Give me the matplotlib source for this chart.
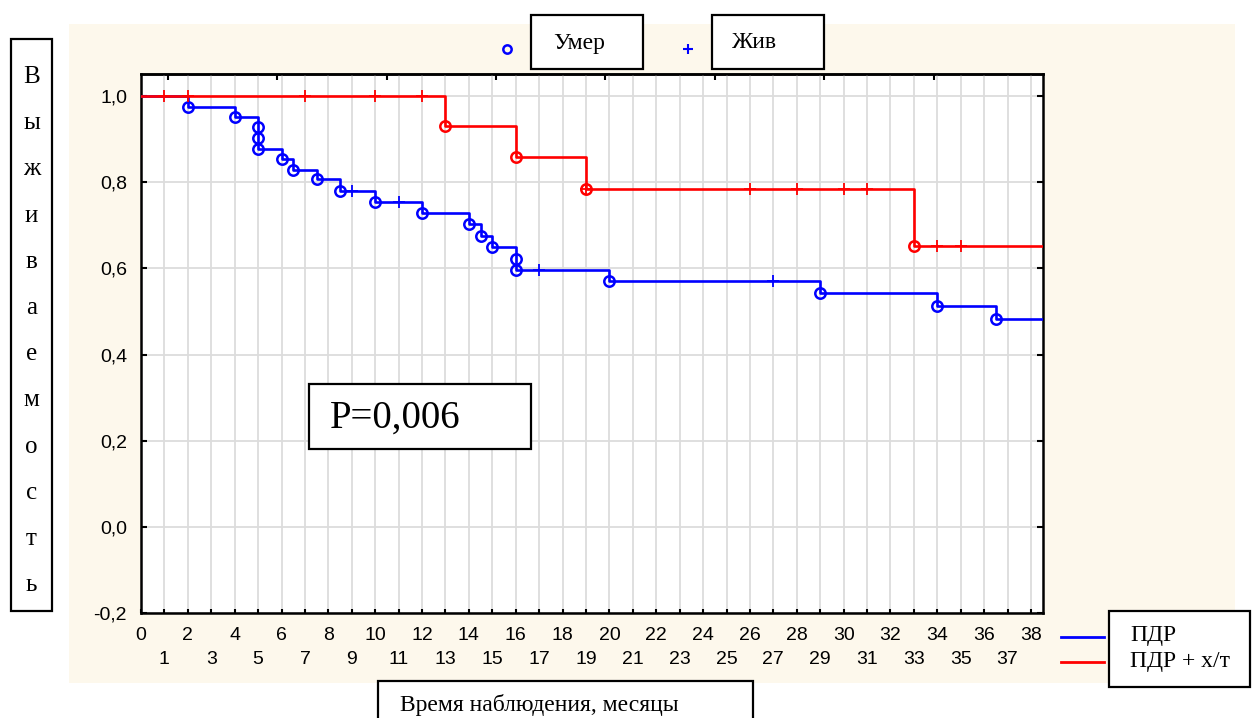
import numpy as np
import matplotlib
matplotlib.use("Agg")
import matplotlib.pyplot as plt
from matplotlib.patches import Rectangle

plt.rcParams["font.family"] = ["Liberation Sans", "DejaVu Sans"]

# Kaplan-Meier data: ПДР (blue)
pdr_death_t = [2, 4, 5, 5, 5, 6, 6.5, 7.5, 8.5, 10, 12, 14, 14.5, 15, 16, 16, 20, 29, 34, 36.5]
pdr_death_s = [0.975, 0.951, 0.927, 0.902, 0.876, 0.854, 0.828, 0.807, 0.780, 0.754,
               0.728, 0.702, 0.676, 0.650, 0.623, 0.597, 0.571, 0.544, 0.513, 0.483]
pdr_cens_t = [9, 11, 17, 27]

# ПДР + х/т (red)
chemo_death_t = [13, 16, 19, 33]
chemo_death_s = [0.930, 0.858, 0.784, 0.653]
chemo_cens_t = [1, 2, 7, 10, 12, 19, 26, 28, 30, 31, 34, 35]

x_major = list(range(0, 39, 2))
x_minor = list(range(1, 38, 2))
y_ticks = [-0.2, 0.0, 0.2, 0.4, 0.6, 0.8, 1.0]
y_labels = ["-0,2", "0,0", "0,2", "0,4", "0,6", "0,8", "1,0"]
x_max = 38.5

W, H = 1252, 718
fig = plt.figure(figsize=(W / 100, H / 100), dpi=100)


def fx(px):
    return px / W


def fy(py):
    return 1 - py / H


# cream panel behind the chart
fig.patches.append(Rectangle((fx(69), fy(683)), fx(1235) - fx(69), fy(24) - fy(683),
                             transform=fig.transFigure, facecolor="#fdf8ec",
                             edgecolor="none", zorder=-5))

ax = fig.add_axes([fx(141), fy(613.3), fx(1042.7) - fx(141), fy(74.3) - fy(613.3)])
ax.set_zorder(1)
ax.set_facecolor("white")
ax.set_xlim(0, x_max)
ax.set_ylim(-0.2, 1.0504)


def km_curve(t, s):
    xs = [0] + list(t) + [x_max]
    ys = [1.0] + list(s) + [s[-1]]
    return xs, ys


def km_at(t, s, times):
    idx = np.searchsorted(np.array(t), np.array(times), side="right")
    vals = np.concatenate([[1.0], s])
    return vals[idx]


for dt, ds, ct, col in [(pdr_death_t, pdr_death_s, pdr_cens_t, "#0000ff"),
                        (chemo_death_t, chemo_death_s, chemo_cens_t, "#ff0000")]:
    xs, ys = km_curve(dt, ds)
    ax.step(xs, ys, where="post", color=col, lw=1.9, zorder=3, clip_on=True)
    ax.plot(dt, ds, linestyle="none", marker="o", ms=7.5, mfc="none",
            mec=col, mew=1.8, zorder=4)
    ax.plot(ct, km_at(dt, ds, ct), linestyle="none", marker="+", ms=8,
            mec=col, mew=1.3, zorder=4)

# grid
ax.set_xticks(x_major)
ax.set_xticks(x_minor, minor=True)
ax.set_xticklabels([str(v) for v in x_major])
ax.set_xticklabels([str(v) for v in x_minor], minor=True)
ax.set_yticks(y_ticks)
ax.set_yticklabels(y_labels)
for v in x_major + x_minor:
    ax.axvline(v, color="#dcdcdc", lw=1.3, zorder=1)
for v in y_ticks:
    ax.axhline(v, color="#dcdcdc", lw=1.3, zorder=1)

ax.tick_params(axis="x", which="major", direction="in", length=3, width=1.5,
               labelsize=14, pad=10)
ax.tick_params(axis="x", which="minor", direction="in", length=3, width=1.5,
               labelsize=14, pad=27.5)
ax.tick_params(axis="y", direction="in", length=4, width=1.5, labelsize=14,
               pad=10, right=True)
for sp in ax.spines.values():
    sp.set_linewidth(1.8)
    sp.set_color("black")

top = ax.secondary_xaxis("top")
top.set_xticks(np.arange(1.15, x_max, 4.67))
top.tick_params(direction="in", length=4, width=1.5, labeltop=False)
top.spines["top"].set_linewidth(1.8)


def box(x0, y0, x1, y1):
    fig.patches.append(Rectangle((fx(x0), fy(y1)), fx(x1) - fx(x0), fy(y0) - fy(y1),
                                 transform=fig.transFigure, facecolor="white",
                                 edgecolor="black", lw=1.6, zorder=5))


serif = ["Liberation Serif", "DejaVu Serif"]

# top legend
fig.lines.append(plt.Line2D([fx(507)], [fy(49)], transform=fig.transFigure,
                            marker="o", ms=6, mfc="none", mec="#0000ff", mew=1.8))
fig.lines.append(plt.Line2D([fx(688)], [fy(49)], transform=fig.transFigure,
                            marker="+", ms=7, mec="#0000ff", mew=1.5))
box(531, 15, 643, 69)
fig.text(fx(553), fy(43), "Умер", family=serif, fontsize=17, va="center", zorder=6)
box(712, 15, 824, 69)
fig.text(fx(732), fy(43), "Жив", family=serif, fontsize=17, va="center", zorder=6)

# vertical y label
box(11, 39, 52, 611)
for i, ch in enumerate("Выживаемость"):
    fig.text(fx(31.5), fy(77 + i * 46.2), ch, family=serif, fontsize=18,
             ha="center", va="center", zorder=6)

# x label
box(378, 681, 753, 730)
fig.text(fx(400), fy(705), "Время наблюдения, месяцы", family=serif, fontsize=17,
         va="center", zorder=6)

# p-value
box(309, 384, 531, 449)
fig.text(fx(330), fy(418), "P=0,006", family=serif, fontsize=28, va="center", zorder=6)

# bottom-right legend
fig.lines.append(plt.Line2D([fx(1061), fx(1104)], [fy(636.5), fy(636.5)],
                            transform=fig.transFigure, color="#0000ff", lw=2))
fig.lines.append(plt.Line2D([fx(1061), fx(1104)], [fy(661.5), fy(661.5)],
                            transform=fig.transFigure, color="#ff0000", lw=2))
box(1109, 611, 1250, 687)
fig.text(fx(1130), fy(636), "ПДР", family=serif, fontsize=17, va="center", zorder=6)
fig.text(fx(1130), fy(662), "ПДР + х/т", family=serif, fontsize=17, va="center", zorder=6)

fig.savefig("out.png", dpi=100, facecolor="white")
